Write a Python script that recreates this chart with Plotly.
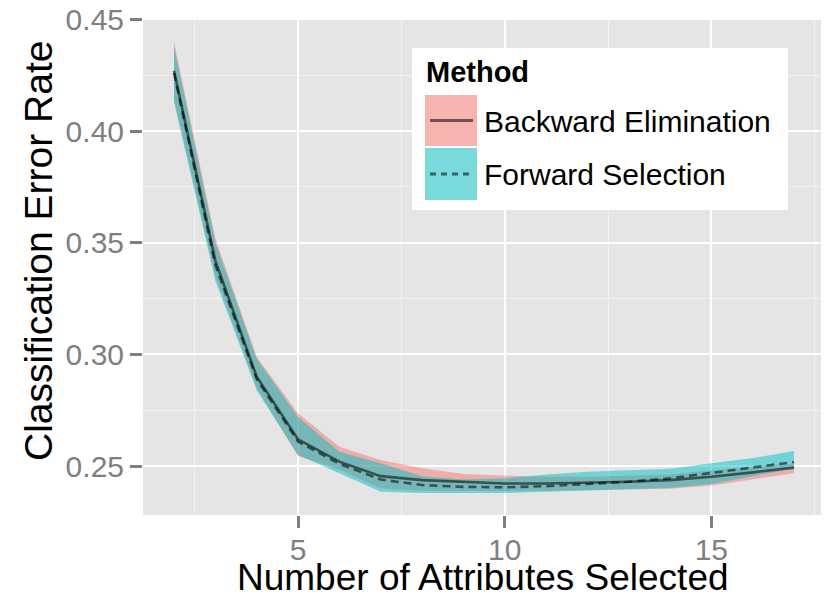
import plotly.graph_objects as go

# number of attributes selected
n_attr = [2, 3, 4, 5, 6, 7, 8, 9, 10, 11, 12, 13, 14, 15, 16, 17]

# Backward Elimination: mean error and ribbon bounds
be_mean = [0.427, 0.342, 0.290, 0.262, 0.252, 0.2455, 0.2437, 0.2430, 0.2422, 0.2422,
           0.2425, 0.2430, 0.2437, 0.2452, 0.2472, 0.2493]
be_lower = [0.414, 0.335, 0.285, 0.2545, 0.2485, 0.2400, 0.2390, 0.2388, 0.2388, 0.2390,
            0.2392, 0.2394, 0.2398, 0.2413, 0.2442, 0.2468]
be_upper = [0.440, 0.352, 0.299, 0.2737, 0.2587, 0.2527, 0.2490, 0.2464, 0.2457, 0.2452,
            0.2452, 0.2456, 0.2462, 0.2480, 0.2497, 0.2512]

# Forward Selection
fs_mean = [0.426, 0.340, 0.289, 0.261, 0.2510, 0.2440, 0.2415, 0.2407, 0.2405, 0.2410,
           0.2420, 0.2430, 0.2445, 0.2470, 0.2495, 0.2518]
fs_lower = [0.413, 0.333, 0.284, 0.2550, 0.2468, 0.2385, 0.2380, 0.2379, 0.2379, 0.2385,
            0.2392, 0.2396, 0.2402, 0.2420, 0.2455, 0.2488]
fs_upper = [0.438, 0.350, 0.298, 0.2720, 0.2564, 0.2513, 0.2455, 0.2440, 0.2445, 0.2462,
            0.2475, 0.2480, 0.2488, 0.2513, 0.2536, 0.2567]

y_ticks = [0.25, 0.30, 0.35, 0.40, 0.45]
x_ticks = [5, 10, 15]
methods = ['Backward Elimination', 'Forward Selection']

FONT = 'Liberation Sans, Arial, Helvetica, sans-serif'
PINK = 'rgba(248,118,109,0.5)'
CYAN = 'rgba(0,191,196,0.5)'
LINE = 'rgba(0,0,0,0.55)'

# the page body adds an 8px margin, so the figure is a bit smaller than the window
OFF = 8
W, H = 829 - OFF, 600 - OFF
ML, MR, MT, MB = 143 - OFF, 4, 18 - OFF, 85
PW, PH = W - ML - MR, H - MT - MB


def px(x):
    # page pixel -> paper x
    return (x - OFF - ML) / PW


def py(y):
    # page pixel -> paper y
    return (H - MB - (y - OFF)) / PH


fig = go.Figure()

# ribbons
for lo, hi, col in [(be_lower, be_upper, PINK), (fs_lower, fs_upper, CYAN)]:
    fig.add_trace(go.Scatter(x=n_attr, y=hi, mode='lines', line=dict(width=0),
                             showlegend=False, hoverinfo='skip'))
    fig.add_trace(go.Scatter(x=n_attr, y=lo, mode='lines', line=dict(width=0),
                             fill='tonexty', fillcolor=col, showlegend=False,
                             hoverinfo='skip'))

# mean lines
fig.add_trace(go.Scatter(x=n_attr, y=be_mean, mode='lines', name=methods[0],
                         line=dict(color=LINE, width=2.6), showlegend=False))
fig.add_trace(go.Scatter(x=n_attr, y=fs_mean, mode='lines', name=methods[1],
                         line=dict(color=LINE, width=2.6, dash='8px,5px'),
                         showlegend=False))

# hand-drawn legend, ggplot style
shapes = [
    dict(type='rect', xref='paper', yref='paper', x0=px(412), x1=px(788),
         y0=py(210), y1=py(48), fillcolor='white', line=dict(width=0), layer='above'),
]
keys = [(95, 146, PINK, 'solid'), (148, 200, CYAN, '6px,5px')]
for (top, bot, col, dash), label in zip(keys, methods):
    shapes.append(dict(type='rect', xref='paper', yref='paper', x0=px(425), x1=px(477),
                       y0=py(bot), y1=py(top), fillcolor='#F2F2F2',
                       line=dict(width=0), layer='above'))
    shapes.append(dict(type='rect', xref='paper', yref='paper', x0=px(425), x1=px(477),
                       y0=py(bot), y1=py(top), fillcolor=col,
                       line=dict(width=0), layer='above'))
    ym = py((top + bot) / 2)
    shapes.append(dict(type='line', xref='paper', yref='paper', x0=px(430), x1=px(473),
                       y0=ym, y1=ym, line=dict(color=LINE, width=2.8, dash=dash),
                       layer='above'))

annotations = [
    dict(text='<b>Method</b>', xref='paper', yref='paper', x=px(424), y=py(72),
         xanchor='left', yanchor='middle', showarrow=False,
         font=dict(family=FONT, size=29, color='black')),
    # axis titles
    dict(text='Number of Attributes Selected', xref='paper', yref='paper',
         x=px(483), y=py(577), xanchor='center', yanchor='middle', showarrow=False,
         font=dict(family=FONT, size=37, color='black')),
    dict(text='Classification Error Rate', xref='paper', yref='paper', textangle=-90,
         x=px(39), y=py(251), xanchor='center', yanchor='middle', showarrow=False,
         font=dict(family=FONT, size=39, color='black')),
]
for (top, bot, _, _), label in zip(keys, methods):
    annotations.append(dict(text=label, xref='paper', yref='paper', x=px(482),
                            y=py((top + bot) / 2 + 1), xanchor='left', yanchor='middle',
                            showarrow=False, font=dict(family=FONT, size=30, color='black')))

fig.update_layout(
    width=W, height=H,
    margin=dict(l=ML, r=MR, t=MT, b=MB, autoexpand=False),
    paper_bgcolor='white',
    plot_bgcolor='#E5E5E5',
    font=dict(family=FONT),
    shapes=shapes,
    annotations=annotations,
    xaxis=dict(
        range=[1.25, 17.75], tickvals=x_ticks, ticktext=[str(v) for v in x_ticks],
        ticks='outside', ticklen=12, tickwidth=2.5, tickcolor='#7F7F7F',
        tickfont=dict(family=FONT, size=30, color='#7F7F7F'), automargin=False,
        ticklabelstandoff=-4, ticklabeloverflow='allow',
        showgrid=True, gridcolor='white', gridwidth=2.2, zeroline=False, showline=False,
        minor=dict(dtick=2.5, tick0=0, showgrid=True, gridcolor='#F2F2F2', gridwidth=1,
                   ticks=''),
    ),
    yaxis=dict(
        range=[0.2281, 0.4506], tickvals=y_ticks, ticktext=['%.2f' % v for v in y_ticks],
        ticks='outside', ticklen=12, tickwidth=2.5, tickcolor='#7F7F7F',
        tickfont=dict(family=FONT, size=30, color='#7F7F7F'), automargin=False,
        ticklabeloverflow='allow',
        showgrid=True, gridcolor='white', gridwidth=2.2, zeroline=False, showline=False,
        minor=dict(dtick=0.025, tick0=0, showgrid=True, gridcolor='#F2F2F2', gridwidth=1,
                   ticks=''),
    ),
)

fig.write_html('out.html')
